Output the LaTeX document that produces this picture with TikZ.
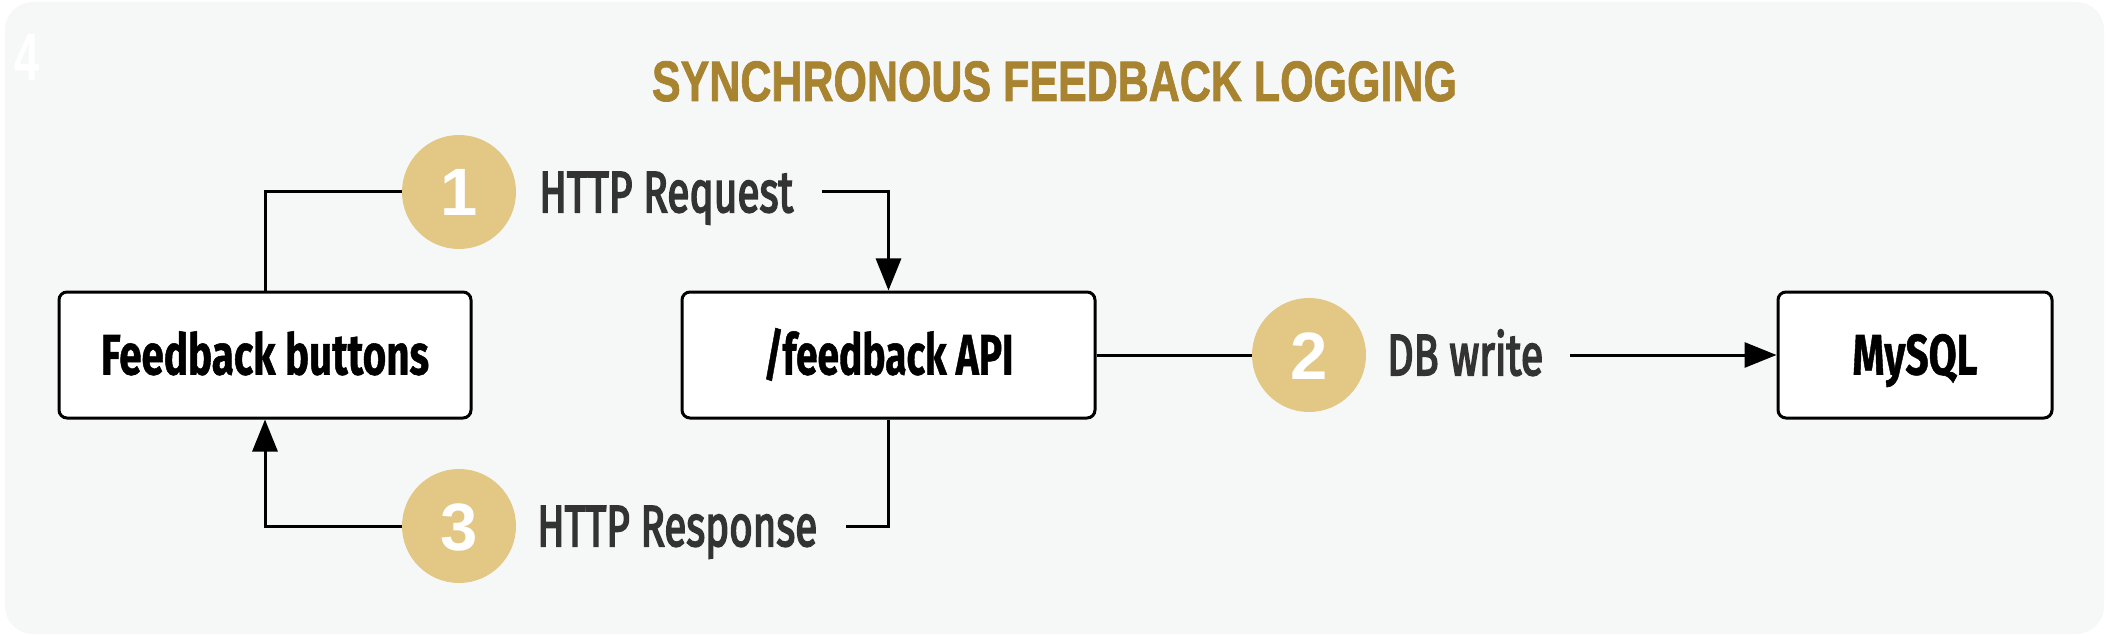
\documentclass[tikz,border=0pt]{standalone}
\usepackage{fontspec}
\usepackage{graphicx}
\usetikzlibrary{arrows.meta}
\setmainfont{Fira Sans}
\newfontfamily\boxfont{Fira Sans}[BoldFeatures={FakeBold=1}]
\newfontfamily\lblfont{Fira Sans}[FakeBold=3.5]
\newfontfamily\numfont{Liberation Sans}
\newfontfamily\ttlfont{Liberation Sans}[BoldFeatures={FakeBold=1.5}]
\definecolor{bgc}{HTML}{F6F8F7}
\definecolor{goldc}{HTML}{E3C785}
\definecolor{titlec}{HTML}{A88330}
\definecolor{lblgray}{HTML}{333333}
\newcommand{\fitto}[2]{\resizebox{#1}{\height}{#2}}
\tikzset{
  stepbox/.style={draw=black, line width=3pt, fill=white, rounded corners=8pt,
    minimum height=126pt, inner sep=0pt, text height=39pt, text depth=0pt,
    font=\boxfont\bfseries\fontsize{57}{60}\selectfont},
  badge/.style={circle, fill=goldc, minimum size=114pt, inner sep=0pt, text=white,
    text height=48pt, text depth=0pt, font=\numfont\bfseries\fontsize{67}{70}\selectfont},
  lbl/.style={anchor=west, inner sep=0pt, text=lblgray, text height=40pt, text depth=0pt,
    font=\lblfont\fontsize{58}{60}\selectfont},
  conn/.style={draw=black, line width=3pt},
  arr/.style={conn, -{Triangle[length=32pt,width=25pt]}}
}
\begin{document}
\begin{tikzpicture}[x=1pt,y=-1pt]
\fill[white] (0,0) rectangle (2106,636);
\useasboundingbox (0,0) rectangle (2106,636);
\fill[bgc, rounded corners=28pt] (5,2) rectangle (2104,634);

\node[anchor=base, inner sep=0pt, text=white, font=\numfont\bfseries\fontsize{67}{70}\selectfont] (num4) at (27,81) {\fitto{25pt}{4}};
\node[anchor=base, inner sep=0pt, text=titlec, font=\ttlfont\bfseries\fontsize{57}{60}\selectfont] (title) at (1054.5,101) {\fitto{805pt}{SYNCHRONOUS FEEDBACK LOGGING}};

\node[stepbox, minimum width=412pt] (fb) at (265,355) {\fitto{328pt}{Feedback buttons}};
\node[stepbox, minimum width=413pt] (api) at (888.5,355) {\fitto{250pt}{/feedback API}};
\node[stepbox, minimum width=274pt] (db) at (1915,355) {\fitto{125pt}{MySQL}};

\node[badge] (c1) at (459,192) {1};
\node[badge] (c2) at (1309,355) {2};
\node[badge] (c3) at (459,526) {3};

\node[lbl] (req) at (539,192) {\fitto{254pt}{HTTP Request}};
\node[lbl] (dbw) at (1387,355) {\fitto{156pt}{DB write}};
\node[lbl] (resp) at (537,526) {\fitto{280pt}{HTTP Response}};

\coordinate (reqend) at (822,192);
\coordinate (dbstart) at (1570,355);
\coordinate (respend) at (846,526);

\draw[conn] (fb.north) |- (c1.west);
\draw[arr] (reqend) -| (api.north);
\draw[conn] (api.east) -- (c2.west);
\draw[arr] (dbstart) -- (db.west);
\draw[conn] (api.south) |- (respend);
\draw[arr] (c3.west) -| (fb.south);
\end{tikzpicture}
\end{document}
